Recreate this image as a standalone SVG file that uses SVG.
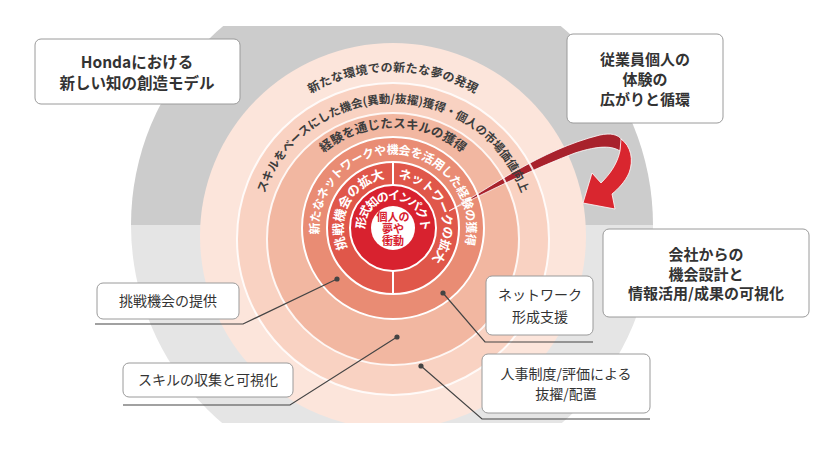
<svg xmlns="http://www.w3.org/2000/svg" width="831" height="476" viewBox="0 0 831 476">
<style>
.box{fill:#fff;stroke:#9a9a9a;stroke-width:1}
.bt{font-family:"Noto Sans CJK JP","Noto Sans",sans-serif;fill:#333;text-anchor:middle}
.b{font-weight:700}
.arc{font-family:"Noto Sans CJK JP",sans-serif;font-weight:700;fill:#3d3d3d}
.warc{font-family:"Noto Sans CJK JP",sans-serif;font-weight:700;fill:#fff}
.sep{fill:none;stroke:#fff;stroke-width:2}
.con{fill:none;stroke:#444;stroke-width:1.2}
.dot{fill:#444}
</style>
<defs>
<clipPath id="gclip"><circle cx="392" cy="225" r="261"/></clipPath>
<clipPath id="rclip"><rect x="0" y="0" width="831" height="423"/></clipPath>
<path id="p1" d="M266.3,130.7 A165.4,165.4 0 0 1 519.7,130.7"/>
<path id="p2" d="M256.6,234.2 A136.5,136.5 0 0 1 529.4,234.2"/>
<path id="p3" d="M291.3,199 A108.2,108.2 0 0 1 494.7,199"/>
<path id="p4" d="M321.9,248.4 A74,74 0 1 1 460.6,258.1"/>
<path id="p5" d="M355.6,261.1 A50,50 0 0 1 400.4,178.6"/>
<path id="p6" d="M384.3,178.8 A50,50 0 0 1 421.7,269"/>
<path id="p7" d="M366.7,237.6 A28,28 0 1 1 419.3,237.6"/>
</defs>
<rect width="831" height="476" fill="#fff"/>
<g id="background" clip-path="url(#gclip)">
<rect x="100" y="26" width="600" height="199" fill="#cccccc"/>
<rect x="100" y="225" width="600" height="198" fill="#e5e5e5"/>
</g>
<g id="rings" clip-path="url(#rclip)">
<circle cx="393" cy="236" r="193" fill="#fce5db"/>
<circle cx="393" cy="239" r="156" fill="#f9d2c2"/>
<circle cx="393" cy="239" r="126" fill="#f2b7a1"/>
<circle cx="393" cy="228" r="91" fill="#e98c74"/>
<circle cx="393" cy="228" r="66" fill="#e0574a"/>
<circle cx="393" cy="228" r="43" fill="#d8222f"/>
<circle cx="393" cy="228" r="22" fill="#fff"/>
</g>
<g id="swoosh" stroke="#fff" stroke-width="0.8">
<path d="M449,211 C490,188 540,150 600,135 C610,133 618,134 622,140 L620,151 C612,146 600,145 575,153 C540,166 490,190 449,211 Z" fill="#a8222c"/>
<path d="M621,139 C631,146 634,160 629,173 C625,182 618,189 612,194 L615,209 L583,203 L592,173 L601,183 C609,175 617,165 620,151 Z" fill="#d9262f"/>
</g>
<g id="separators">
<circle class="sep" cx="393" cy="239" r="156" stroke-opacity="0.85"/>
<circle class="sep" cx="393" cy="239" r="126" stroke-opacity="0.85"/>
<circle class="sep" cx="393" cy="228" r="91"/>
<circle class="sep" cx="393" cy="228" r="66"/>
<circle class="sep" cx="393" cy="228" r="43"/>
<line class="sep" x1="393" y1="162" x2="393" y2="185"/>
<line class="sep" x1="393" y1="271" x2="393" y2="294"/>
</g>
<g id="ring-labels">
<text class="arc" font-size="12" letter-spacing="0.3"><textPath href="#p1" startOffset="50%" text-anchor="middle">新たな環境での新たな夢の発現</textPath></text>
<text class="arc" font-size="11.5"><textPath href="#p2" startOffset="50%" text-anchor="middle">スキルをベースにした機会(異動/抜擢)獲得・個人の市場価値向上</textPath></text>
<text class="arc" font-size="12.5"><textPath href="#p3" startOffset="50%" text-anchor="middle">経験を通じたスキルの獲得</textPath></text>
<text class="warc" font-size="12" letter-spacing="-0.4"><textPath href="#p4" startOffset="50%" text-anchor="middle">新たなネットワークや機会を活用した経験の獲得</textPath></text>
<text class="warc" font-size="13"><textPath href="#p5" startOffset="50%" text-anchor="middle">挑戦機会の拡大</textPath></text>
<text class="warc" font-size="12.5" letter-spacing="-0.6"><textPath href="#p6" startOffset="50%" text-anchor="middle">ネットワークの拡大</textPath></text>
<text class="warc" font-size="12" letter-spacing="-2"><textPath href="#p7" startOffset="50%" text-anchor="middle">形式知のインパクト</textPath></text>
</g>
<g id="center" font-family="Noto Sans CJK JP,sans-serif" font-weight="700" font-size="11" fill="#d8222f" text-anchor="middle">
<text x="393" y="221">個人の</text>
<text x="393" y="233">夢や</text>
<text x="393" y="245">衝動</text>
</g>
<g id="connectors">
<polyline class="con" points="95,324 243,324 337,279"/>
<circle class="dot" cx="337" cy="279" r="2.6"/>
<polyline class="con" points="123,405 290,405 397,337"/>
<circle class="dot" cx="397" cy="337" r="2.6"/>
<polyline class="con" points="593,342 485,342 443,293"/>
<circle class="dot" cx="443" cy="293" r="2.6"/>
<polyline class="con" points="650,419 482,419 421,366"/>
<circle class="dot" cx="421" cy="366" r="2.6"/>
</g>
<g id="title">
<rect class="box" x="35" y="39" width="205" height="65" rx="6"/>
<text class="bt b" x="137" y="68" font-size="15.5">Hondaにおける</text>
<text class="bt b" x="137" y="89" font-size="15.5">新しい知の創造モデル</text>
</g>
<g id="employee">
<rect class="box" x="567" y="34" width="156" height="89" rx="6"/>
<text class="bt b" x="645" y="65" font-size="15">従業員個人の</text>
<text class="bt b" x="645" y="85" font-size="15">体験の</text>
<text class="bt b" x="645" y="105" font-size="15">広がりと循環</text>
</g>
<g id="company">
<rect class="box" x="603" y="229" width="206" height="88" rx="6"/>
<text class="bt b" x="706" y="260" font-size="15">会社からの</text>
<text class="bt b" x="706" y="280" font-size="15">機会設計と</text>
<text class="bt b" x="706" y="299" font-size="15">情報活用/成果の可視化</text>
</g>
<g id="challenge">
<rect class="box" x="97" y="283" width="142" height="36" rx="6"/>
<text class="bt" x="168" y="306" font-size="14">挑戦機会の提供</text>
</g>
<g id="skill">
<rect class="box" x="123" y="363" width="170" height="34" rx="6"/>
<text class="bt" x="208" y="385" font-size="14">スキルの収集と可視化</text>
</g>
<g id="network">
<rect class="box" x="486" y="276" width="107" height="59" rx="6"/>
<text class="bt" x="540" y="300" font-size="14">ネットワーク</text>
<text class="bt" x="540" y="322" font-size="14">形成支援</text>
</g>
<g id="hr">
<rect class="box" x="482" y="354" width="168" height="59" rx="6"/>
<text class="bt" x="566" y="379" font-size="14">人事制度/評価による</text>
<text class="bt" x="566" y="399" font-size="14">抜擢/配置</text>
</g>
</svg>
